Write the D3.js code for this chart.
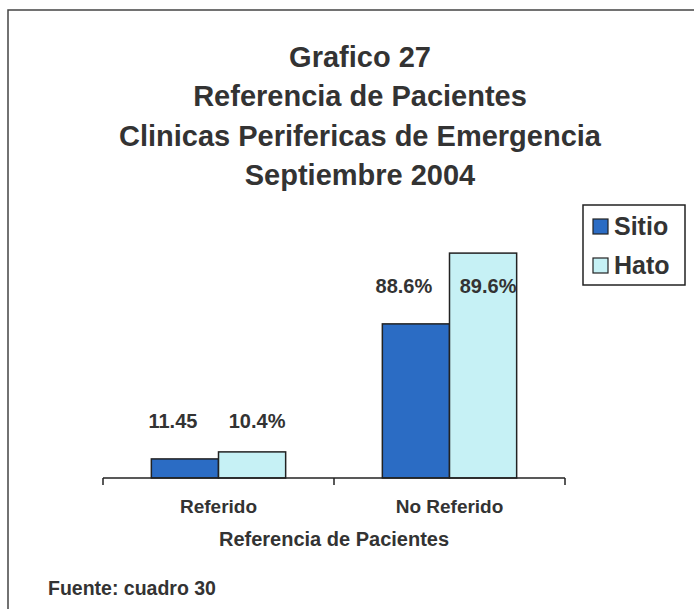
<!DOCTYPE html>
<html>
<head>
<meta charset="utf-8">
<script src="https://cdn.jsdelivr.net/npm/d3@7"></script>
<style>
  html, body { margin: 0; padding: 0; background: #fff; }
  text { font-family: "Liberation Sans", Arial, sans-serif; font-weight: bold; fill: #333; }
</style>
</head>
<body>
<div id="viz"></div>
<script>
// datos
const categories = ['Referido', 'No Referido'];
const series = ['Sitio', 'Hato'];
// altura de las barras tal como aparece en la figura
const sitioValues = [7.6, 61.4];
const hatoValues = [10.4, 89.6];
// etiquetas impresas sobre las barras
const sitioLabels = ['11.45', '88.6%'];
const hatoLabels = ['10.4%', '89.6%'];
const titleLines = ['Grafico 27', 'Referencia de Pacientes', 'Clinicas Perifericas de Emergencia', 'Septiembre 2004'];
const colors = { Sitio: '#2b6cc4', Hato: '#c6f1f5' };

const W = 694, H = 609;
const svg = d3.select('#viz').append('svg')
  .attr('width', W).attr('height', H);

// marco
svg.append('path')
  .attr('d', `M8,${H} L8,10 L${W},10`)
  .attr('fill', 'none').attr('stroke', '#444').attr('stroke-width', 1.5);

// titulo
svg.selectAll('.title').data(titleLines).join('text')
  .attr('class', 'title')
  .attr('x', 360).attr('y', (d, i) => 67 + i * 39.3)
  .attr('text-anchor', 'middle')
  .style('font-size', '29px')
  .text(d => d);

const x = d3.scaleBand().domain(categories).range([103, 565]);
const xs = d3.scaleBand().domain(series).range([0, x.bandwidth()]).paddingOuter(0.72);
const y = d3.scaleLinear().domain([0, 100]).range([478, 227]);

const rows = categories.map((c, i) => ({
  cat: c,
  vals: [
    { s: 'Sitio', v: sitioValues[i], label: sitioLabels[i] },
    { s: 'Hato', v: hatoValues[i], label: hatoLabels[i] }
  ]
}));

const g = svg.selectAll('.grp').data(rows).join('g')
  .attr('transform', d => `translate(${x(d.cat)},0)`);

g.selectAll('rect').data(d => d.vals).join('rect')
  .attr('x', d => xs(d.s))
  .attr('y', d => y(d.v))
  .attr('width', xs.bandwidth())
  .attr('height', d => y(0) - y(d.v))
  .attr('fill', d => colors[d.s])
  .attr('stroke', '#222').attr('stroke-width', 1.5);

// etiquetas de valor
g.selectAll('.lbl').data(d => d.vals.map(v => ({ ...v, base: d.vals[0].v }))).join('text')
  .attr('class', 'lbl')
  .attr('x', d => xs(d.s) + xs.bandwidth() / 2 + (d.s === 'Sitio' ? -12 : 5))
  .attr('y', d => y(d.base) - 31)
  .attr('text-anchor', 'middle')
  .style('font-size', '20px')
  .text(d => d.label);

// eje x
const axisY = y(0);
const bounds = categories.map(c => x(c)).concat([x.range()[1]]);
svg.append('line')
  .attr('x1', x.range()[0]).attr('x2', x.range()[1])
  .attr('y1', axisY).attr('y2', axisY)
  .attr('stroke', '#222').attr('stroke-width', 1.5);
svg.selectAll('.tick').data(bounds).join('line')
  .attr('x1', d => d).attr('x2', d => d)
  .attr('y1', axisY).attr('y2', axisY + 7)
  .attr('stroke', '#222').attr('stroke-width', 1.5);

svg.selectAll('.cat').data(categories).join('text')
  .attr('x', d => x(d) + x.bandwidth() / 2)
  .attr('y', 513)
  .attr('text-anchor', 'middle')
  .style('font-size', '19px')
  .text(d => d);

svg.append('text')
  .attr('x', (x.range()[0] + x.range()[1]) / 2).attr('y', 546)
  .attr('text-anchor', 'middle')
  .style('font-size', '20px')
  .text('Referencia de Pacientes');

svg.append('text')
  .attr('x', 48).attr('y', 595)
  .style('font-size', '19.5px')
  .text('Fuente: cuadro 30');

// leyenda
const leg = svg.append('g').attr('transform', 'translate(583,205)');
leg.append('rect')
  .attr('width', 102).attr('height', 80)
  .attr('fill', '#fff').attr('stroke', '#222').attr('stroke-width', 1.5);
const li = leg.selectAll('.li').data(series).join('g')
  .attr('transform', (d, i) => `translate(10,${14 + i * 39})`);
li.append('rect')
  .attr('width', 15).attr('height', 15)
  .attr('fill', d => colors[d]).attr('stroke', '#222').attr('stroke-width', 1.2);
li.append('text')
  .attr('x', 21).attr('y', 16)
  .style('font-size', '25px')
  .text(d => d);
</script>
</body>
</html>
